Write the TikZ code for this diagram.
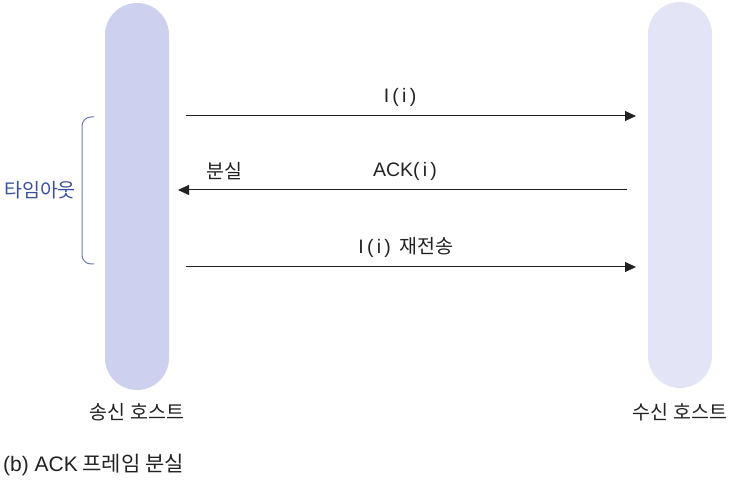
\documentclass[tikz,border=0pt]{standalone}
\usepackage{fontspec}
\setmainfont{Noto Sans CJK KR}
\newfontfamily\latfont{Liberation Sans}
\usetikzlibrary{arrows.meta}
\definecolor{sendbar}{HTML}{CDD0EE}
\definecolor{recvbar}{HTML}{E3E4F6}
\definecolor{bracecol}{HTML}{7078B8}
\definecolor{tocol}{HTML}{3B4FA0}
\definecolor{txt}{HTML}{222222}
\tikzset{
  hostbar/.style={rectangle, rounded corners=32pt, minimum width=64pt, inner sep=0pt},
  msg/.style={line width=1pt, draw=txt, -{Triangle[length=11pt,width=10pt]}},
  lbl/.style={inner sep=0pt, text=txt, font=\fontsize{19.5}{22}\selectfont},
}
\begin{document}
\begin{tikzpicture}[x=1pt,y=-1pt]
\useasboundingbox (0,0) rectangle (732,481);
\node[hostbar, fill=sendbar, minimum height=387pt] (send) at (137,196.5) {};
\node[hostbar, fill=recvbar, minimum height=386pt] (recv) at (680,195) {};
% message endpoints
\coordinate (a1s) at (186,116);
\coordinate (a1e) at (636,116);
\coordinate (a2s) at (627,190);
\coordinate (a2e) at (178,190);
\coordinate (a3s) at (186,267);
\coordinate (a3e) at (636,267);
\draw[msg] (a1s) -- (a1e);
\draw[msg] (a2s) -- (a2e);
\draw[msg] (a3s) -- (a3e);
\node[lbl] (l1) at (400,97) {{\latfont I\,(\,i\,)}};
\node[lbl] (l2) at (405,171) {{\latfont ACK(\,i\,)}};
\node[lbl] (l3) at (224,171) {분실};
\node[lbl] (l4) at (406,247) {{\latfont I\,(\,i\,)}\ \ 재전송};
% timeout brace
\coordinate (bt) at (94,117);
\coordinate (bb) at (94,264);
\draw[bracecol, line width=1pt, rounded corners=9pt] (bt) -- (82,117) -- (82,264) -- (bb);
\node[lbl, text=tocol] (to) at (40,190) {타임아웃};
\node[lbl] (sl) at (137,412) {송신 호스트};
\node[lbl] (rl) at (680,412) {수신 호스트};
\node[lbl, anchor=west, font=\fontsize{21}{24}\selectfont] (cap) at (3,465) {{\latfont (b) ACK} 프레임 분실};
\end{tikzpicture}
\end{document}
